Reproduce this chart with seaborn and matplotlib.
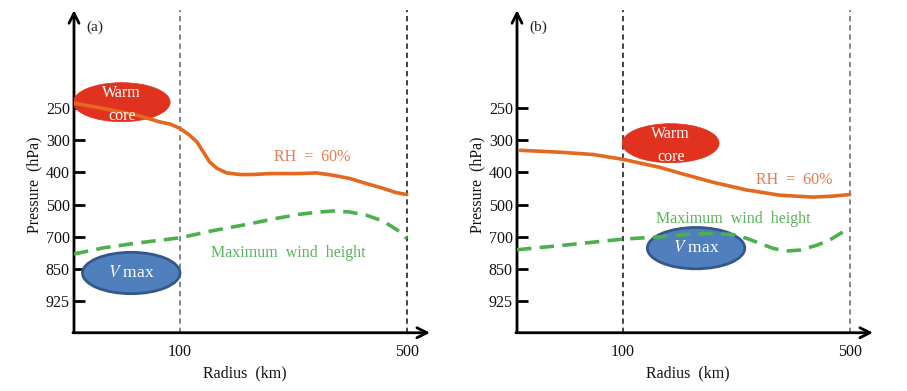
import matplotlib
matplotlib.use("Agg")
import matplotlib.pyplot as plt
from matplotlib.patches import Ellipse
import seaborn as sns
import pandas as pd

# ---------------- data (schematic coordinates) ----------------
# pressure levels shown on the y axis (equally spaced, schematic)
pressure_levels = ["250", "300", "400", "500", "700", "850", "925"]
# radius ticks (schematic positions: 0 = centre, 1 = 100 km, 3.14 = 500 km)
radius_labels = ["100", "500"]
radius_pos = [1.0, 3.14]

# panel (a): RH = 60% line  (x in schematic radius units, y in level index)
rh_a_x = [0.0, 0.27, 0.59, 0.81, 0.91, 1.0, 1.09, 1.16, 1.22, 1.28, 1.35, 1.44,
          1.57, 1.69, 1.85, 2.13, 2.29, 2.44, 2.6, 2.76, 2.92, 3.04, 3.14]
rh_a_y = [-0.14, 0.02, 0.23, 0.44, 0.51, 0.64, 0.85, 1.06, 1.37, 1.68, 1.88, 2.02,
          2.07, 2.07, 2.04, 2.04, 2.02, 2.09, 2.19, 2.35, 2.5, 2.63, 2.69]
# panel (a): maximum wind height
wind_a_x = [0.0, 0.28, 0.6, 1.0, 1.31, 1.67, 1.89, 2.13, 2.29, 2.44, 2.6, 2.76,
            2.89, 2.98, 3.08, 3.14]
wind_a_y = [4.53, 4.34, 4.19, 4.03, 3.81, 3.59, 3.44, 3.3, 3.24, 3.2, 3.23, 3.33,
            3.48, 3.64, 3.85, 4.05]

# panel (b): RH = 60% line
rh_b_x = [0.03, 0.41, 0.72, 1.0, 1.35, 1.54, 1.85, 2.17, 2.48, 2.79, 2.98, 3.14]
rh_b_y = [1.32, 1.38, 1.45, 1.6, 1.85, 2.03, 2.31, 2.55, 2.71, 2.77, 2.74, 2.69]
# panel (b): maximum wind height
wind_b_x = [0.0, 0.47, 1.0, 1.35, 1.63, 1.85, 2.04, 2.17, 2.29, 2.42, 2.54, 2.67,
            2.83, 2.95, 3.05, 3.14]
wind_b_y = [4.4, 4.25, 4.07, 4.0, 3.92, 3.9, 3.93, 4.05, 4.2, 4.36, 4.44, 4.41,
            4.26, 4.1, 3.9, 3.72]

ORANGE = "#e2691f"
ORANGE_TXT = "#e27b50"
GREEN = "#4cb04c"
GREEN_TXT = "#5cb25c"
RED = "#e0321f"
BLUE = "#4f7fbd"
BLUE_EDGE = "#34588a"

sns.set_theme(style="white")
plt.rcParams["font.family"] = ["Liberation Serif", "DejaVu Serif"]
plt.rcParams["mathtext.fontset"] = "stix"

fig = plt.figure(figsize=(9.07, 3.91), dpi=100)

XMAX = 3.36
YTOP, YBOT = -3.02, 6.97

panels = [
    dict(pos=[74 / 907, 0.149, 356 / 907, 0.825], tag="(a)",
         rh=(rh_a_x, rh_a_y), wind=(wind_a_x, wind_a_y),
         vcol=("#666666", "#111111"),
         warm=(0.45, -0.17), vmax=(0.54, 5.12),
         rh_txt=(2.25, 1.53), wind_txt=(2.02, 4.5)),
    dict(pos=[517 / 907, 0.149, 356 / 907, 0.825], tag="(b)",
         rh=(rh_b_x, rh_b_y), wind=(wind_b_x, wind_b_y),
         vcol=("#111111", "#666666"),
         warm=(1.45, 1.1), vmax=(1.69, 4.35),
         rh_txt=(2.62, 2.24), wind_txt=(2.04, 3.45)),
]

for p in panels:
    ax = fig.add_axes(p["pos"])
    ax.set_xlim(0, XMAX)
    ax.set_ylim(YBOT, YTOP)
    for s in ax.spines.values():
        s.set_visible(False)
    ax.set_facecolor("none")

    # axes arrows
    ax.annotate("", xy=(0, 1.0), xytext=(0, 0), xycoords="axes fraction",
                arrowprops=dict(arrowstyle="->", lw=2, color="black",
                                mutation_scale=18, shrinkA=0, shrinkB=0))
    ax.annotate("", xy=(1.0, 0), xytext=(-0.003, 0), xycoords="axes fraction",
                arrowprops=dict(arrowstyle="->", lw=2, color="black",
                                mutation_scale=18, shrinkA=0, shrinkB=0))

    # dashed reference lines
    for xp, c in zip(radius_pos, p["vcol"]):
        ax.axvline(xp, color=c, lw=1.1, ls=(0, (3.5, 2.5)), zorder=1)

    # ellipses
    wx, wy = p["warm"]
    ax.add_patch(Ellipse((wx, wy), 0.915, 1.21, facecolor=RED, edgecolor=RED,
                         lw=0.5, zorder=3))
    ax.text(wx, wy - 0.27, "Warm", ha="center", va="center", color="white",
            fontsize=11.5, zorder=5)
    ax.text(wx, wy + 0.43, "core", ha="center", va="center", color="white",
            fontsize=11.5, zorder=5)
    vx, vy = p["vmax"]
    ax.add_patch(Ellipse((vx, vy), 0.92, 1.28, facecolor=BLUE,
                         edgecolor=BLUE_EDGE, lw=2, zorder=3))
    ax.text(vx, vy, r"$\mathit{V}$ max", ha="center", va="center",
            color="white", fontsize=12.5, zorder=5)

    # curves
    rx, ry = p["rh"]
    gx, gy = p["wind"]
    df_rh = pd.DataFrame({"r": rx, "lev": ry})
    df_w = pd.DataFrame({"r": gx, "lev": gy})
    sns.lineplot(data=df_rh, x="r", y="lev", sort=False, estimator=None,
                 color=ORANGE, lw=2.6, ax=ax, zorder=4)
    sns.lineplot(data=df_w, x="r", y="lev", sort=False, estimator=None,
                 color=GREEN, lw=2.6, ax=ax, zorder=4,
                 linestyle=(0, (4, 2.3)))

    ax.text(*p["rh_txt"], "RH  =  60%", ha="center", va="center",
            color=ORANGE_TXT, fontsize=11.5)
    ax.text(*p["wind_txt"], "Maximum  wind  height", ha="center",
            va="center", color=GREEN_TXT, fontsize=11.5)
    ax.text(0.2, -2.49, p["tag"], ha="center", va="center", fontsize=11,
            color="#222222")

    # ticks
    ax.set_yticks(range(len(pressure_levels)))
    ax.set_yticklabels(pressure_levels)
    ax.set_xticks(radius_pos)
    ax.set_xticklabels(radius_labels)
    ax.tick_params(axis="y", direction="in", length=8, width=2, pad=3,
                   labelsize=11.5, left=True, color="black", labelcolor="#111111")
    ax.tick_params(axis="x", length=0, pad=8, labelsize=11.5,
                   labelcolor="#111111")
    ax.set_xlabel("Radius  (km)", fontsize=11.5, labelpad=6, color="#111111")
    ax.set_ylabel("Pressure  (hPa)", fontsize=11.5, labelpad=8,
                  color="#111111")
    ax.yaxis.set_label_coords(-0.09, 0.46)
    ax.xaxis.set_label_coords(0.48, -0.10)
    ax.grid(False)

fig.savefig("out.png", dpi=100)
